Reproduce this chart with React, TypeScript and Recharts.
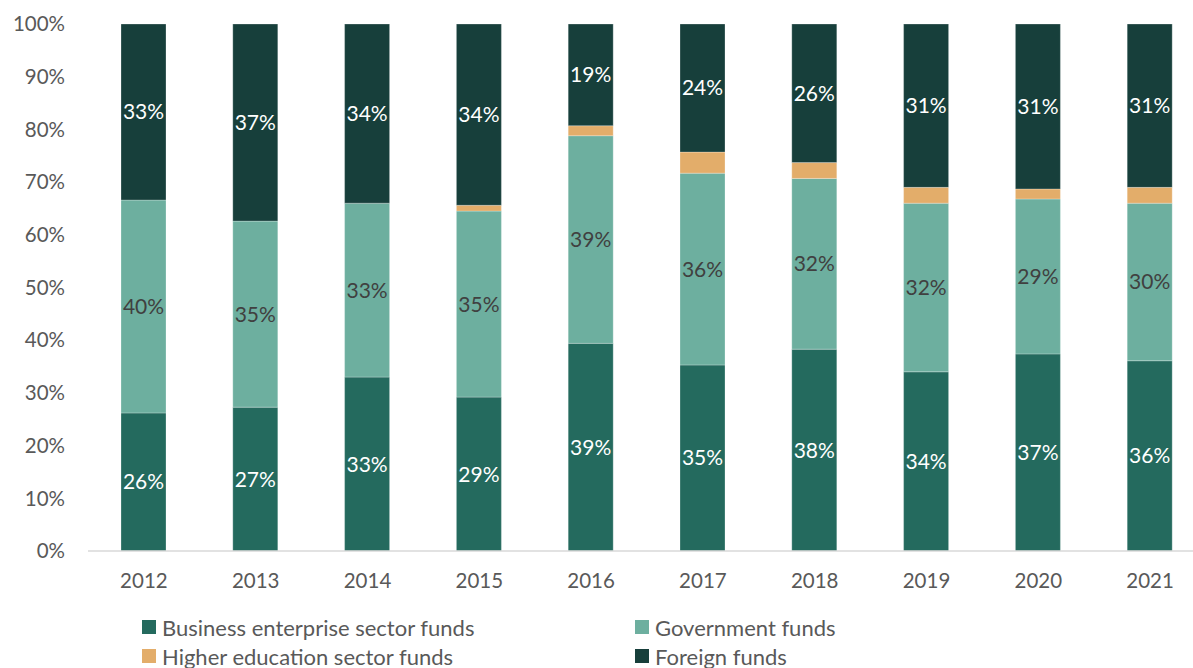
import React from "react";
import { BarChart, Bar, XAxis, YAxis, LabelList } from "recharts";

const years = ["2012", "2013", "2014", "2015", "2016", "2017", "2018", "2019", "2020", "2021"];
const businessFunds = [26.2, 27.3, 33.0, 29.2, 39.4, 35.3, 38.3, 34.0, 37.4, 36.1];
const governmentFunds = [40.4, 35.3, 33.0, 35.3, 39.4, 36.4, 32.4, 32.0, 29.4, 29.9];
const higherEduFunds = [0, 0, 0, 1.1, 1.9, 4.0, 3.0, 3.0, 1.9, 3.0];
const foreignFunds = [33.4, 37.4, 34.0, 34.4, 19.3, 24.3, 26.3, 31.0, 31.3, 31.0];
const yTicks = [0, 10, 20, 30, 40, 50, 60, 70, 80, 90, 100];

const series = [
  { key: "business", name: "Business enterprise sector funds", color: "#246a5e", label: "#ffffff" },
  { key: "government", name: "Government funds", color: "#6daf9f", label: "#404040" },
  { key: "higher", name: "Higher education sector funds", color: "#e3ad6a", label: null },
  { key: "foreign", name: "Foreign funds", color: "#173f3b", label: "#ffffff" },
];

const data = years.map((y, i) => ({
  year: y,
  business: businessFunds[i],
  government: governmentFunds[i],
  higher: higherEduFunds[i],
  foreign: foreignFunds[i],
}));

const FONT = "Lato, 'Open Sans', sans-serif";
const TEXT = "#595959";

// legend is a 2x2 grid, second row partly cut by the frame like the original
function LegendGrid() {
  return (
    <div
      style={{
        position: "absolute",
        left: 142,
        top: 614,
        width: 760,
        display: "grid",
        gridTemplateColumns: "493px 260px",
        rowGap: 3,
        fontFamily: FONT,
        fontSize: 22,
        color: TEXT,
      }}
    >
      {series.map((s) => (
        <div key={s.key} style={{ display: "flex", alignItems: "center", height: 26 }}>
          <span style={{ width: 14, height: 14, background: s.color, marginRight: 6 }} />
          <span>{s.name}</span>
        </div>
      ))}
    </div>
  );
}

export default function App() {
  return (
    <div
      style={{
        position: "fixed",
        left: 0,
        top: 0,
        width: 1193,
        height: 668,
        overflow: "hidden",
        background: "#fff",
      }}
    >
      <BarChart
        width={1215}
        height={668}
        data={data}
        margin={{ top: 24, right: 9, left: 0, bottom: 77 }}
        barSize={45}
      >
        <XAxis
          dataKey="year"
          axisLine={{ stroke: "#d9d9d9", strokeWidth: 1.5 }}
          tickLine={false}
          tickSize={0}
          tickMargin={22}
          height={40}
          tick={{ fill: TEXT, fontSize: 20.5, fontFamily: FONT }}
        />
        <YAxis
          domain={[0, 100]}
          ticks={yTicks}
          interval={0}
          width={88}
          axisLine={false}
          tickLine={false}
          tickSize={0}
          tickMargin={23}
          tickFormatter={(v: number) => `${v}%`}
          tick={{ fill: TEXT, fontSize: 20.5, fontFamily: FONT }}
        />
        {series.map((s) => (
          <Bar
            key={s.key}
            dataKey={s.key}
            name={s.name}
            stackId="a"
            fill={s.color}
            stroke="#ffffff"
            strokeOpacity={0.35}
            strokeWidth={0.75}
            isAnimationActive={false}
          >
            {s.label && (
              <LabelList
                dataKey={s.key}
                position="center"
                formatter={(v: number) => `${Math.round(v)}%`}
                fill={s.label}
                style={{ fontSize: 21, fontFamily: FONT }}
              />
            )}
          </Bar>
        ))}
      </BarChart>
      <LegendGrid />
    </div>
  );
}
